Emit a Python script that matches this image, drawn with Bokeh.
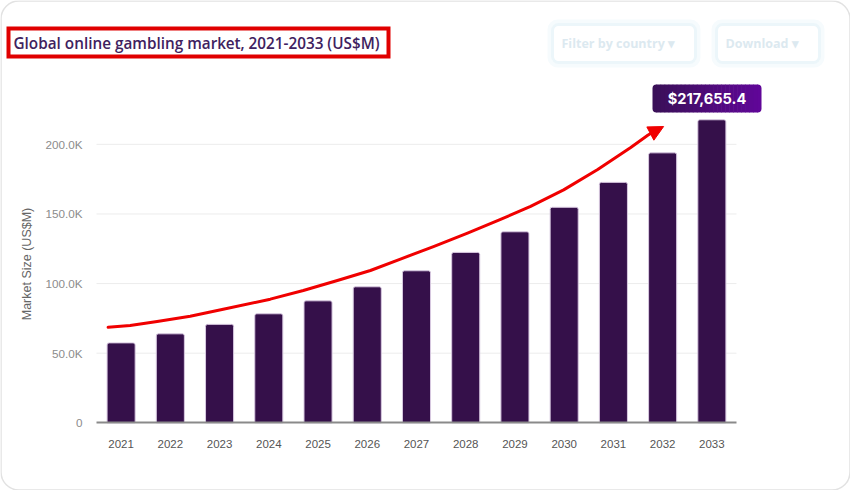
from bokeh.embed import file_html
from bokeh.resources import INLINE
from bokeh.models import Range1d, FixedTicker, BoxAnnotation, Label, Arrow, NormalHead, ColumnDataSource
from bokeh.plotting import figure
import math

# --- data ---
years = [2021, 2022, 2023, 2024, 2025, 2026, 2027, 2028, 2029, 2030, 2031, 2032, 2033]
market_size = [57400, 63900, 70700, 78300, 87600, 97700, 109200, 122400, 137200, 154800, 172700, 193900, 217655.4]
y_ticks = [0, 50000, 100000, 150000, 200000]
y_tick_labels = ["0", "50.0K", "100.0K", "150.0K", "200.0K"]
trend_x = [2020.736, 2021.183, 2021.732, 2022.403, 2023.074, 2024.030, 2024.701, 2025.393, 2026.064, 2026.674,
           2027.345, 2028.037, 2028.708, 2029.318, 2029.989, 2030.681, 2031.352, 2031.698, 2031.78]
trend_y = [68600, 69900, 72700, 76500, 81500, 88800, 95000, 102200, 109400, 117600,
           126600, 136200, 146100, 155500, 167300, 182000, 197800, 206500, 208300]
arrow_tip = (2032.02, 212800)
title_text = "Global online gambling market, 2021-2033 (US$M)"
badge_text = "$217,655.4"
y_title = "Market Size (US$M)"

W, H = 850, 490
X0, X1 = 2020.5, 2033.5  # the span of the axis and the grid lines


def bx(l, r, t, b, **kw):
    return BoxAnnotation(left=l, right=r, top=t, bottom=b,
                         left_units="canvas", right_units="canvas", top_units="canvas", bottom_units="canvas",
                         level="overlay", line_alpha=1, **kw)


def lab(x, y, text, **kw):
    return Label(x=x, y=y, x_units="canvas", y_units="canvas", text=text, level="overlay", **kw)


# the frame fills the canvas, so that the title, the buttons and the badge can lie anywhere on it
p = figure(width=W, height=H, output_backend="svg", toolbar_location=None,
           x_range=Range1d(2018.55, 2035.816), y_range=Range1d(-48624, 303327),
           min_border_left=0, min_border_right=0, min_border_top=0, min_border_bottom=0,
           background_fill_color="white", border_fill_color="white", outline_line_color=None)
p.grid.visible = False

p.segment(x0=[X0] * 4, x1=[X1] * 4, y0=y_ticks[1:], y1=y_ticks[1:], line_color="#ececec", line_width=1)

src = ColumnDataSource(dict(x=years, top=market_size))
p.vbar(x="x", top="top", width=0.57, source=src, fill_color="#35104a", line_color="#d8c9e0", line_width=1,
       border_radius=(2, 2, 0, 0))
p.line(trend_x, trend_y, line_color="#f00000", line_width=3, line_cap="round", line_join="round")
p.add_layout(Arrow(x_start=trend_x[-1], y_start=trend_y[-1], x_end=arrow_tip[0], y_end=arrow_tip[1],
                   line_color="#f00000", line_width=3,
                   end=NormalHead(size=15, fill_color="#f00000", line_color="#f00000", line_width=1)))

p.xaxis.fixed_location = 0
p.xaxis.bounds = (X0, X1)
p.xaxis.ticker = FixedTicker(ticks=years)
p.xaxis.major_label_overrides = {y: str(y) for y in years}
p.xaxis.axis_line_color = "#8a8a8a"
p.xaxis.axis_line_width = 2
p.xaxis.major_tick_line_color = None
p.xaxis.minor_tick_line_color = None
p.xaxis.major_tick_out = 0
p.xaxis.major_tick_in = 0
p.xaxis.major_label_standoff = 17
p.xaxis.major_label_text_font = "Liberation Sans"
p.xaxis.major_label_text_font_size = "11.5px"
p.xaxis.major_label_text_color = "#555555"

p.yaxis.fixed_location = X0
p.yaxis.ticker = FixedTicker(ticks=y_ticks)
p.yaxis.major_label_overrides = dict(zip(y_ticks, y_tick_labels))
p.yaxis.axis_line_color = None
p.yaxis.major_tick_line_color = None
p.yaxis.minor_tick_line_color = None
p.yaxis.major_tick_out = 0
p.yaxis.major_tick_in = 0
p.yaxis.major_label_standoff = 14
p.yaxis.major_label_text_font = "Liberation Sans"
p.yaxis.major_label_text_font_size = "11.7px"
p.yaxis.major_label_text_color = "#8c8c8c"

p.add_layout(lab(26, 263.5, y_title, angle=math.pi / 2, text_font="Liberation Sans", text_font_size="12.5px",
                 text_color="#666666", text_align="center", text_baseline="middle"))

# card
p.add_layout(bx(0.5, 849.5, 0.5, 489.5, fill_alpha=0, line_color="#e2e2e2", line_width=1.5, border_radius=18))

# title with red frame
p.add_layout(bx(8, 388, 28, 56, fill_color="white", fill_alpha=1, line_color="#e00000", line_width=4,
                line_join="miter"))
p.add_layout(lab(13, 42, title_text, text_font="Open Sans SemiBold", text_font_size="15.3px", text_color="#3f2260",
                 text_font_style="normal", text_baseline="middle", text_align="left"))

# blurred buttons
for l, r, t, b, text, tx in [(552, 695, 24, 62, "Filter by country ▾", 561), (716, 819, 24, 62, "Download ▾", 725)]:
    p.add_layout(bx(l - 3, r + 3, t - 3, b + 3, fill_alpha=0, line_color="#f6fbfd", line_width=4, border_radius=8))
    p.add_layout(bx(l, r, t, b, fill_alpha=0, line_color="#ecf6fa", line_width=3, border_radius=6))
    p.add_layout(lab(tx, 43, text, text_font="Open Sans", text_font_size="12.5px", text_color="#dce9f0",
                     text_font_style="bold", text_baseline="middle", text_align="left"))

# badge with gradient
c0, c1 = (0x3a, 0x10, 0x58), (0x60, 0x06, 0x98)
bl, br, bt, bb = 652, 761, 84, 112
n = 27
step = (br - bl) / n
for i in range(n):
    f = i / (n - 1)
    col = "#%02x%02x%02x" % tuple(round(a + (b - a) * f) for a, b in zip(c0, c1))
    radius = (4, 0, 0, 4) if i == 0 else (0, 4, 4, 0) if i == n - 1 else 0
    p.add_layout(BoxAnnotation(left=bl + i * step, right=bl + (i + 1) * step + (0 if i == n - 1 else 0.6), top=bt, bottom=bb,
                               left_units="canvas", right_units="canvas", top_units="canvas", bottom_units="canvas",
                               level="overlay", fill_color=col, fill_alpha=1, line_color=None, border_radius=radius))
p.add_layout(lab(706.5, 98.5, badge_text, text_font="Inter", text_font_size="14.6px", text_font_style="bold",
                 text_color="white", text_align="center", text_baseline="middle"))

open("out.html", "w").write(file_html(p, INLINE))
